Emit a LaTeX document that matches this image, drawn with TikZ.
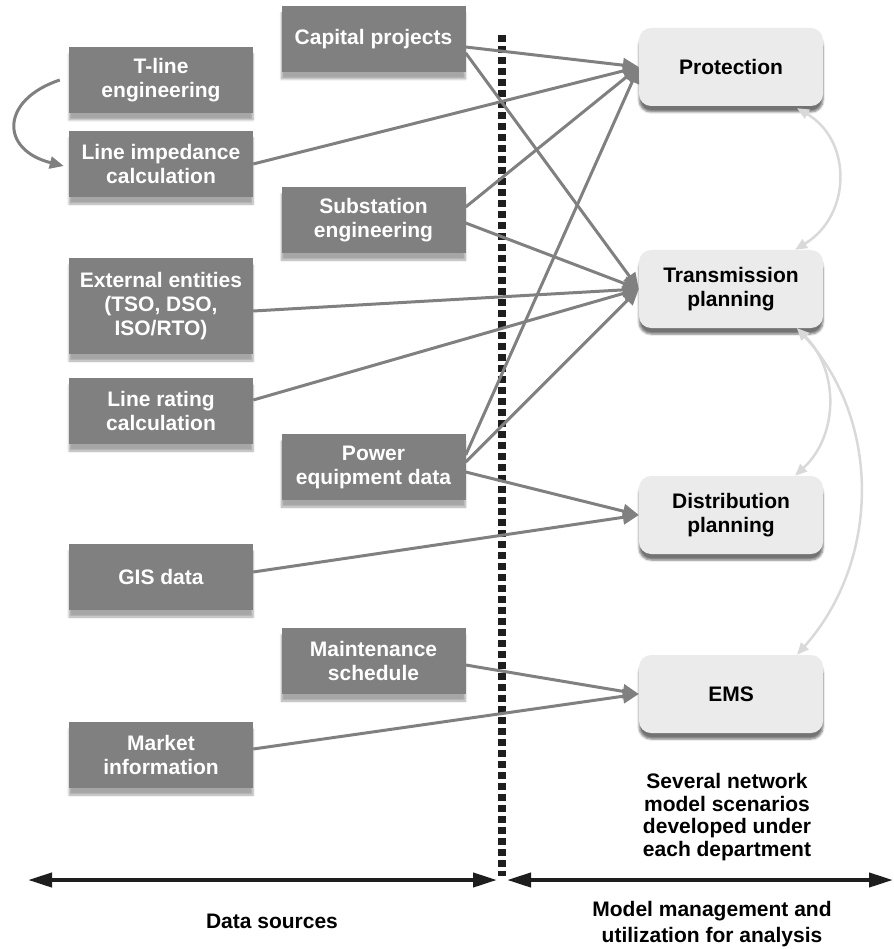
\documentclass[tikz,border=0pt]{standalone}
\usepackage{fontspec}
\setmainfont{Liberation Sans}
\usetikzlibrary{arrows.meta,shadows.blur}

\definecolor{srcgray}{HTML}{808080}
\definecolor{deptfill}{HTML}{EBEBEB}
\definecolor{loopgray}{HTML}{D9D9D9}
\definecolor{axisblack}{HTML}{1E1E1E}

\begin{document}
\begin{tikzpicture}[x=1pt,y=-1pt,
  lbl/.style={font=\fontsize{21}{24}\selectfont\bfseries, align=center, inner sep=0pt},
  src/.style={lbl, fill=srcgray, text=white, minimum width=184pt, minimum height=66pt,
    blur shadow={shadow xshift=0pt, shadow yshift=-7pt, shadow opacity=35, shadow blur steps=6}},
  dept/.style={lbl, fill=deptfill, text=black, rounded corners=12pt, minimum width=184pt, minimum height=78pt,
    blur shadow={shadow xshift=0pt, shadow yshift=-6pt, shadow opacity=55, shadow blur steps=5}},
  feed/.style={draw=srcgray, line width=3pt, -{Triangle[length=16pt,width=14pt]}},
  loop/.style={draw=loopgray, line width=2.5pt, {Triangle[length=12pt,width=10pt]}-{Triangle[length=12pt,width=10pt]}},
  axis/.style={draw=axisblack, line width=4pt, {Triangle[length=24pt,width=14pt]}-{Triangle[length=24pt,width=14pt]}},
]
\useasboundingbox (0,0) rectangle (893,949);

% data sources, left column
\node[src] (tline) at (161,80) {T-line\\engineering};
\node[src] (imp)   at (161,164) {Line impedance\\calculation};
\node[src, minimum height=96pt] (ext) at (161,306) {External entities\\(TSO, DSO,\\ISO/RTO)};
\node[src] (rate)  at (161,411) {Line rating\\calculation};
\node[src] (gis)   at (161,577) {GIS data};
\node[src] (mkt)   at (161,755) {Market\\information};

% data sources, middle column
\node[src] (cap)  at (373.5,39) {Capital projects};
\node[src] (sub)  at (373.5,220) {Substation\\engineering};
\node[src] (pow)  at (373.5,467) {Power\\equipment data};
\node[src] (mnt)  at (373.5,661) {Maintenance\\schedule};

% departments
\node[dept] (prot) at (731,67)  {Protection};
\node[dept] (tp)   at (731,289) {Transmission\\planning};
\node[dept] (dp)   at (731,515) {Distribution\\planning};
\node[dept] (ems)  at (731,694) {EMS};

% separator between sources and departments
\draw[axisblack, line width=8pt, dash pattern=on 7pt off 4pt] (502,35) -- (502,876);

% feeds into the departments
\draw[feed] ([yshift=-8pt]cap.east) -- (prot.west);
\draw[feed] ([yshift=-14pt]cap.east) -- (tp.west);
\draw[feed] (imp.east) -- (prot.west);
\draw[feed] ([yshift=13pt]sub.east) -- (prot.west);
\draw[feed] ([yshift=-3pt]sub.east) -- (tp.west);
\draw[feed] ([yshift=-5pt]ext.east) -- (tp.west);
\draw[feed] ([yshift=11pt]rate.east) -- (tp.west);
\draw[feed] ([yshift=12pt]pow.east) -- (prot.west);
\draw[feed] ([yshift=5pt]pow.east) -- (tp.west);
\draw[feed] ([yshift=-5pt]pow.east) -- (dp.west);
\draw[feed] ([yshift=5pt]gis.east) -- (dp.west);
\draw[feed] ([yshift=-4pt]mnt.east) -- (ems.west);
\draw[feed] ([yshift=6pt]mkt.east) -- (ems.west);

% T-line engineering feeds the impedance calculation
\draw[draw=srcgray, line width=3pt, -{Triangle[length=14pt,width=12pt]}]
  ([xshift=-9pt]tline.west) .. controls (0,100) and (0,150) .. ([xshift=-5pt,yshift=-2pt]imp.west);

% exchanges between departments
\draw[loop] ([xshift=66pt,yshift=-2pt]prot.south) .. controls (852,140) and (852,215) .. ([xshift=64pt]tp.north);
\draw[loop] ([xshift=66pt]tp.south) .. controls (839,370) and (839,435) .. ([xshift=64pt]dp.north);
\draw[loop] ([xshift=66pt]tp.south) .. controls (881,420) and (881,560) .. ([xshift=66pt]ems.north);

% captions and axis
\node[lbl, font=\fontsize{21}{22.5}\selectfont\bfseries] (note) at (727,817)
  {Several network\\model scenarios\\developed under\\each department};
\coordinate (axl) at (28,880);
\coordinate (axm) at (497,880);
\coordinate (axn) at (507,880);
\coordinate (axr) at (893,880);
\draw[axis] (axl) -- (axm);
\draw[axis] (axn) -- (axr);
\node[lbl] (ds) at (272,921) {Data sources};
\node[lbl, font=\fontsize{21}{26}\selectfont\bfseries] (mm) at (712,924) {Model management and\\utilization for analysis};
\end{tikzpicture}
\end{document}
